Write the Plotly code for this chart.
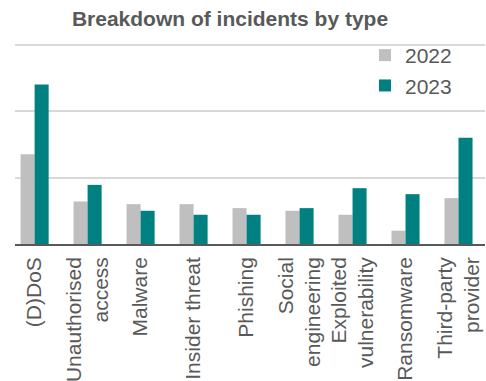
import plotly.graph_objects as go

categories = ["(D)DoS", "Unauthorised<br>access", "Malware", "Insider threat", "Phishing",
              "Social<br>engineering", "Exploited<br>vulnerability", "Ransomware", "Third-party<br>provider"]
values_2022 = [13.5, 6.4, 6.0, 6.0, 5.4, 5.0, 4.4, 2.0, 6.9]
values_2023 = [24.0, 8.9, 5.0, 4.4, 4.4, 5.4, 8.4, 7.5, 16.0]

FONT = "Liberation Sans, Arial, sans-serif"
TXT = "#595959"

fig = go.Figure()
fig.add_trace(go.Bar(name="2022", x=categories, y=values_2022, marker=dict(color="#BFBFBF", line=dict(width=0))))
fig.add_trace(go.Bar(name="2023", x=categories, y=values_2023, marker=dict(color="#008080", line=dict(width=0))))

fig.update_layout(
    width=486, height=381,
    margin=dict(l=15, r=1, t=38, b=137),
    paper_bgcolor="white", plot_bgcolor="white",
    barmode="group", bargap=0.47, bargroupgap=0,
    font=dict(family=FONT, color=TXT, size=21),
    title=dict(text="<b>Breakdown of incidents by type</b>", x=230/486, xanchor="center",
               y=1-19/381, yanchor="middle", yref="container",
               font=dict(family=FONT, size=21, color=TXT)),
    legend=dict(x=(365-15)/470, xanchor="left", y=1.0 + 3/206, yanchor="top",
                bgcolor="rgba(0,0,0,0)", font=dict(size=21, color=TXT),
                tracegroupgap=0, itemwidth=30),
    showlegend=True,
)
fig.update_xaxes(range=[-0.37, 8.5], tickangle=-90, showline=True, linecolor="#595959", linewidth=1.5,
                 ticks="", tickfont=dict(size=21, color=TXT), showgrid=False, ticklabelstandoff=3,
                 automargin=False)
fig.update_yaxes(range=[0, 31], dtick=10, showticklabels=False, showgrid=True,
                 gridcolor="#D9D9D9", gridwidth=1.5, zeroline=False, showline=False, automargin=False)

fig.write_html("out.html")
